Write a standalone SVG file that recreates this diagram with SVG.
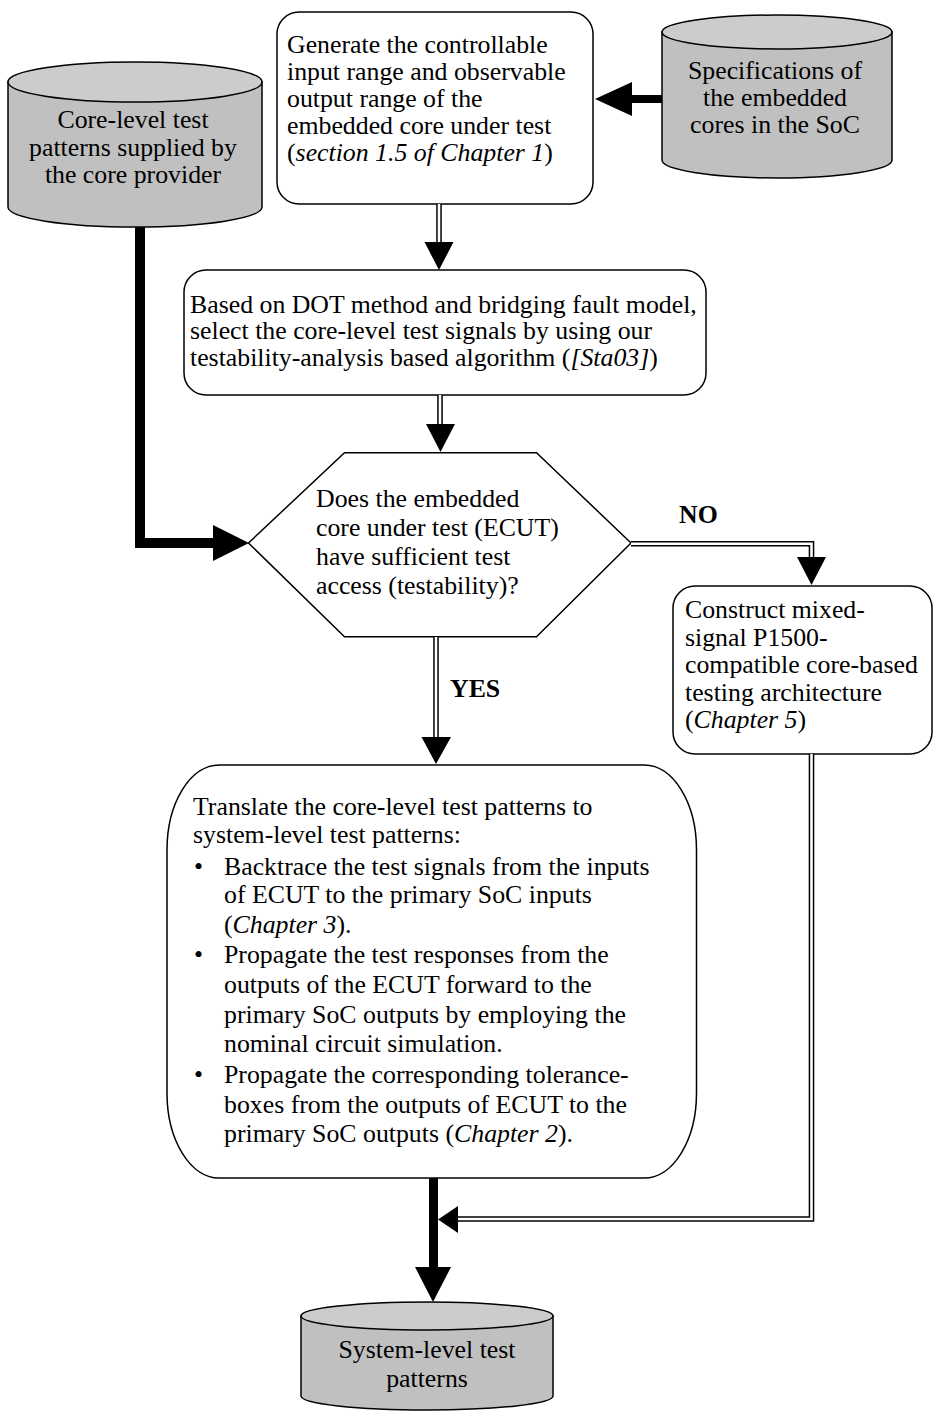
<svg xmlns="http://www.w3.org/2000/svg" width="934" height="1411" viewBox="0 0 934 1411">
  <style>
    text { font-family: "Liberation Serif", "Times New Roman", serif; font-size: 25.8px; fill: #000; }
    .c { text-anchor: middle; }
    .b { font-weight: bold; }
    .i { font-style: italic; }
    .box { fill: #fff; stroke: #000; stroke-width: 1.5; }
    .cyl { fill: #c0c0c0; stroke: #000; stroke-width: 1.5; }
    .cyltop { fill: #cccccc; stroke: #000; stroke-width: 1.5; }
    .thick { fill: none; stroke: #000; stroke-width: 10; stroke-linejoin: miter; }
    .dbl-o { fill: none; stroke: #000; stroke-width: 5.6; stroke-linejoin: miter; }
    .dbl-i { fill: none; stroke: #fff; stroke-width: 2.6; stroke-linejoin: miter; }
    .head { fill: #000; }
  </style>

  <rect width="934" height="1411" fill="#fff"/>

  <!-- core-level test patterns (database) -->
  <g id="core-patterns">
    <path class="cyl" d="M8,82 V207 A127,20 0 0 0 262,207 V82 Z"/>
    <ellipse class="cyltop" cx="135" cy="82" rx="127" ry="20"/>
    <text class="c" x="133" y="128">Core-level test</text>
    <text class="c" x="133" y="155.5">patterns supplied by</text>
    <text class="c" x="133" y="183">the core provider</text>
  </g>

  <!-- generate input/output ranges -->
  <g id="generate-ranges">
    <rect class="box" x="277" y="12" width="316" height="192" rx="22" ry="22"/>
    <text x="287" y="53">Generate the controllable</text>
    <text x="287" y="80">input range and observable</text>
    <text x="287" y="107">output range of the</text>
    <text x="287" y="134">embedded core under test</text>
    <text x="287" y="161">(<tspan class="i">section 1.5 of Chapter 1</tspan>)</text>
  </g>

  <!-- specifications (database) -->
  <g id="core-specs">
    <path class="cyl" d="M662,32 V160 A115,18 0 0 0 892,160 V32 Z"/>
    <ellipse class="cyltop" cx="777" cy="32" rx="115" ry="17"/>
    <text class="c" x="775" y="79">Specifications of</text>
    <text class="c" x="775" y="106">the embedded</text>
    <text class="c" x="775" y="133">cores in the SoC</text>
  </g>

  <!-- select core-level test signals -->
  <g id="select-signals">
    <rect class="box" x="184" y="270" width="522" height="125" rx="22" ry="22"/>
    <text x="190" y="312.5">Based on DOT method and bridging fault model,</text>
    <text x="190" y="339">select the core-level test signals by using our</text>
    <text x="190" y="365.7">testability-analysis based algorithm (<tspan class="i">[Sta03]</tspan>)</text>
  </g>

  <!-- decision -->
  <g id="access-decision">
    <polygon class="box" points="248.5,543 344.5,452.7 536.5,452.7 631,543 536.5,636.7 344.5,636.7"/>
    <text x="316" y="507">Does the embedded</text>
    <text x="316" y="536">core under test (ECUT)</text>
    <text x="316" y="565">have sufficient test</text>
    <text x="316" y="594">access (testability)?</text>
  </g>

  <!-- construct test architecture -->
  <g id="construct-architecture">
    <rect class="box" x="673" y="586" width="259" height="168" rx="22" ry="22"/>
    <text x="685" y="618">Construct mixed-</text>
    <text x="685" y="646">signal P1500-</text>
    <text x="685" y="673">compatible core-based</text>
    <text x="685" y="701">testing architecture</text>
    <text x="685" y="728">(<tspan class="i">Chapter 5</tspan>)</text>
  </g>

  <!-- translate patterns -->
  <g id="translate-patterns">
    <rect class="box" x="167" y="765" width="529.5" height="413" rx="52" ry="85"/>
    <text x="193" y="815">Translate the core-level test patterns to</text>
    <text x="193" y="843">system-level test patterns:</text>
    <text x="194" y="875">•</text>
    <text x="224" y="875">Backtrace the test signals from the inputs</text>
    <text x="224" y="903">of ECUT to the primary SoC inputs</text>
    <text x="224" y="933">(<tspan class="i">Chapter 3</tspan>).</text>
    <text x="194" y="963">•</text>
    <text x="224" y="963">Propagate the test responses from the</text>
    <text x="224" y="993">outputs of the ECUT forward to the</text>
    <text x="224" y="1023">primary SoC outputs by employing the</text>
    <text x="224" y="1052">nominal circuit simulation.</text>
    <text x="194" y="1083">•</text>
    <text x="224" y="1083">Propagate the corresponding tolerance-</text>
    <text x="224" y="1113">boxes from the outputs of ECUT to the</text>
    <text x="224" y="1142">primary SoC outputs (<tspan class="i">Chapter 2</tspan>).</text>
  </g>

  <!-- system-level test patterns (database) -->
  <g id="system-patterns">
    <path class="cyl" d="M301,1316 V1396 A126,14 0 0 0 553,1396 V1316 Z"/>
    <ellipse class="cyltop" cx="427" cy="1316" rx="126" ry="14"/>
    <text class="c" x="427" y="1358">System-level test</text>
    <text class="c" x="427" y="1387">patterns</text>
  </g>

  <!-- connectors -->
  <g id="connectors">
    <!-- specifications -> generate -->
    <path d="M662,99 H628" fill="none" stroke="#000" stroke-width="8"/>
    <polygon class="head" points="632,82 595,99 632,116"/>

    <!-- core patterns -> decision -->
    <path class="thick" d="M140,227 V543 H216"/>
    <polygon class="head" points="213,525 249,543 213,561"/>

    <!-- generate -> select -->
    <path class="dbl-o" d="M439,204 V244"/>
    <path class="dbl-i" d="M439,204 V244"/>
    <polygon class="head" points="424.5,242 453.5,242 439,270"/>

    <!-- select -> decision -->
    <path class="dbl-o" d="M440,395 V426"/>
    <path class="dbl-i" d="M440,395 V426"/>
    <polygon class="head" points="426,424 455,424 440.5,452"/>

    <!-- decision -> construct (NO) -->
    <path class="dbl-o" d="M631,543.7 H811.5 V559"/>
    <path class="dbl-i" d="M631,543.7 H811.5 V559"/>
    <polygon class="head" points="797,557 826,557 811.5,585"/>
    <text class="b" x="679" y="523">NO</text>

    <!-- decision -> translate (YES) -->
    <path class="dbl-o" d="M436,637 V739"/>
    <path class="dbl-i" d="M436,637 V739"/>
    <polygon class="head" points="421.5,737 451,737 436,764"/>
    <text class="b" x="450" y="697">YES</text>

    <!-- construct -> output line -->
    <path class="dbl-o" d="M811.5,754 V1219 H456"/>
    <path class="dbl-i" d="M811.5,754 V1219 H456"/>
    <polygon class="head" points="458,1206 458,1233 438,1219.5"/>

    <!-- translate -> system patterns -->
    <path d="M433.5,1178 V1269" fill="none" stroke="#000" stroke-width="9"/>
    <polygon class="head" points="415,1267 451,1267 433,1302"/>
  </g>
</svg>
